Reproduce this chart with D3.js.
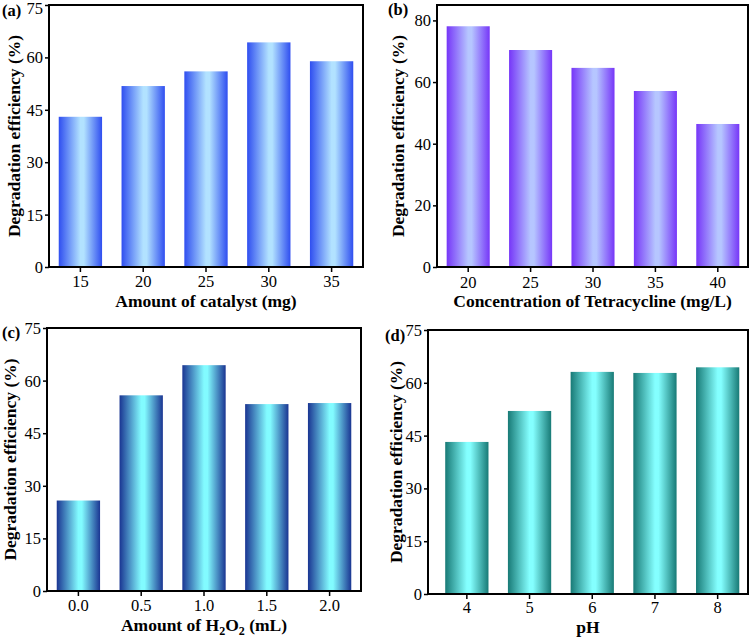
<!DOCTYPE html>
<html><head><meta charset="utf-8">
<script src="https://cdn.jsdelivr.net/npm/d3@7"></script>
<style>body{margin:0;background:#fff}svg{display:block}text{font-family:"Liberation Serif",Tinos,"Times New Roman",Times,serif}</style>
</head><body><svg id="c" width="751" height="638"></svg>
<script>
const catA = ["15","20","25","30","35"];
const valA = [43, 51.8, 56, 64.3, 58.9];
const catB = ["20","25","30","35","40"];
const valB = [78.1, 70.4, 64.6, 57.1, 46.4];
const catC = ["0.0","0.5","1.0","1.5","2.0"];
const valC = [25.8, 55.8, 64.4, 53.3, 53.6];
const catD = ["4","5","6","7","8"];
const valD = [43.2, 52, 63.1, 62.8, 64.4];
const ticksA = [0,15,30,45,60,75];
const ticksB = [0,20,40,60,80];
const ticksC = [0,15,30,45,60,75];
const ticksD = [0,15,30,45,60,75];

const FF = '"Liberation Serif", Tinos, "Times New Roman", Times, serif';
const svg = d3.select("#c");
const defs = svg.append("defs");

const panels = [
  {id:"a", cats:catA, vals:valA, ticks:ticksA, ymax:75, x0:49, x1:363, y0:5, y1:267, bx0:49, bx1:363, ytx:20,
   dark:"#2f4ef0", light:"#b2e2ff", xt:"Amount of catalyst (mg)", lab:"(a)", lx:2, ly:16, tly:287, tty:307},
  {id:"b", cats:catB, vals:valB, ticks:ticksB, ymax:85, x0:437, x1:748, y0:5, y1:267, bx0:437, bx1:749, ytx:404,
   dark:"#7636f8", light:"#b6c6ff", xt:"Concentration of Tetracycline (mg/L)", lab:"(b)", lx:388, ly:15, tly:288, tty:307},
  {id:"c", cats:catC, vals:valC, ticks:ticksC, ymax:75, x0:47, x1:361, y0:328, y1:591, bx0:47, bx1:361, ytx:16,
   dark:"#1a3592", light:"#82fbff", xt:"H2O2", lab:"(c)", lx:2, ly:338, tly:611, tty:631},
  {id:"d", cats:catD, vals:valD, ticks:ticksD, ymax:75, x0:428, x1:748, y0:330, y1:594, bx0:435.5, bx1:749, ytx:402,
   dark:"#187a76", light:"#84ffff", xt:"pH", lab:"(d)", lx:385, ly:341, tly:613, tty:633}
];

panels.forEach(p => {
  const gid = "grad" + p.id;
  const lg = defs.append("linearGradient").attr("id", gid).attr("x1","0").attr("x2","1").attr("y1","0").attr("y2","0");
  lg.append("stop").attr("offset","0").attr("stop-color", p.dark);
  lg.append("stop").attr("offset","0.5").attr("stop-color", p.light);
  lg.append("stop").attr("offset","0.58").attr("stop-color", p.light);
  lg.append("stop").attr("offset","1").attr("stop-color", p.dark);

  const x = d3.scaleBand().domain(p.cats).range([p.bx0, p.bx1]).paddingInner(0.31).paddingOuter(0.155);
  const y = d3.scaleLinear().domain([0, p.ymax]).range([p.y1, p.y0]);
  const g = svg.append("g");

  g.selectAll("rect.bar").data(p.vals).enter().append("rect")
    .attr("class","bar")
    .attr("x", (d,i) => x(p.cats[i]))
    .attr("width", x.bandwidth())
    .attr("y", d => y(d))
    .attr("height", d => y(0) - y(d))
    .attr("fill", "url(#" + gid + ")");

  g.append("rect").attr("x", p.x0).attr("y", p.y0).attr("width", p.x1 - p.x0).attr("height", p.y1 - p.y0)
    .attr("fill","none").attr("stroke","#000").attr("stroke-width",2);

  const ya = g.append("g").attr("transform", `translate(${p.x0},0)`)
    .call(d3.axisLeft(y).tickValues(p.ticks).tickSize(4).tickSizeOuter(0).tickPadding(2));
  ya.attr("font-family", FF);
  ya.select(".domain").remove();
  ya.selectAll("line").attr("stroke","#000").attr("stroke-width",1.5);
  ya.selectAll("text").attr("font-size","16.5px").attr("fill","#000")
    .attr("dy", null).attr("y", 0).attr("dominant-baseline","central");
  ya.selectAll(".tick").filter(d => d === 75).select("text").attr("y", p.y0 < 10 ? 2.5 : 0);

  const xa = g.append("g").attr("transform", `translate(0,${p.y1})`)
    .call(d3.axisBottom(x).tickSize(5).tickSizeOuter(0).tickPadding(4));
  xa.attr("font-family", FF);
  xa.select(".domain").remove();
  xa.selectAll("line").attr("stroke","#000").attr("stroke-width",1.5);
  xa.selectAll("text").attr("font-size","16.5px").attr("fill","#000")
    .attr("dy", null).attr("y", p.tly - p.y1);

  const cx = (p.x0 + p.x1) / 2;
  const t = g.append("text").attr("x", cx).attr("y", p.tty).attr("text-anchor","middle")
    .attr("font-size","17.5px").attr("font-weight","bold").attr("fill","#000");
  if (p.xt === "H2O2") {
    t.append("tspan").text("Amount of H");
    t.append("tspan").text("2").attr("font-size","12px").attr("dy", 4);
    t.append("tspan").text("O").attr("dy", -4);
    t.append("tspan").text("2").attr("font-size","12px").attr("dy", 4);
    t.append("tspan").text(" (mL)").attr("dy", -4);
  } else {
    t.text(p.xt);
  }

  const my = (p.y0 + p.y1) / 2;
  g.append("text").attr("transform", `translate(${p.ytx},${my}) rotate(-90)`)
    .attr("text-anchor","middle").attr("font-size","17.5px").attr("font-weight","bold").attr("fill","#000")
    .text("Degradation efficiency (%)");

  g.append("text").attr("x", p.lx).attr("y", p.ly).attr("font-size","16.5px").attr("font-weight","bold")
    .attr("fill","#000").text(p.lab);
});
</script></body></html>
